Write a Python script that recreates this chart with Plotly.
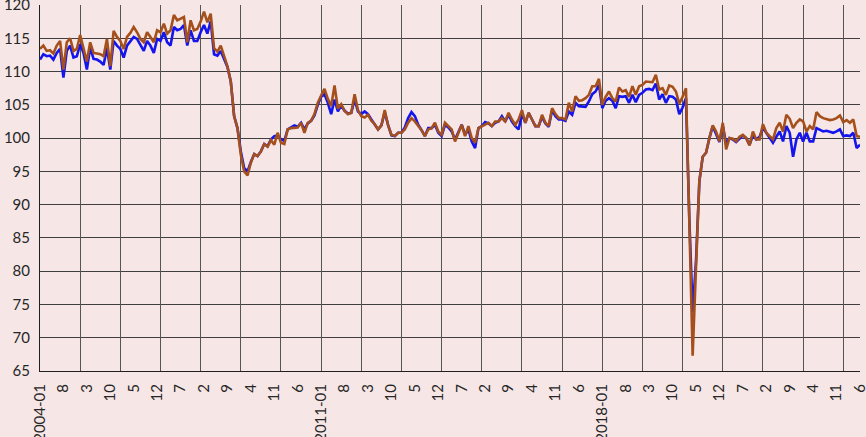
import pandas as pd
import plotly.graph_objects as go

# 月份 (2004-01 ~ 2024-06)
months = pd.date_range("2004-01-01", "2024-06-01", freq="MS")
month_labels = [d.strftime("%Y-%m") if d.month == 1 else str(d.month) for d in months]

# 藍線
blue_idx = [
    111.8, 112.6, 112.3, 112.4, 111.8, 112.8, 113.4, 109.1, 113.1, 113.9, 112.1, 112.3,  # 2004
    114.1, 112.8, 110.3, 113.6, 111.9, 111.8, 111.5, 111.0, 113.5, 110.3, 114.6, 113.9,  # 2005
    113.4, 112.1, 113.9, 114.6, 115.2, 114.9, 113.9, 113.1, 114.6, 113.9, 112.8, 114.9,  # 2006
    114.6, 115.9, 114.4, 113.9, 116.7, 116.2, 116.4, 117.0, 113.9, 116.2, 114.6, 114.6,  # 2007
    115.9, 117.0, 115.7, 117.6, 112.6, 112.4, 113.1, 112.0, 110.7, 108.5, 103.3, 101.5,  # 2008
    98.0, 95.5, 95.0, 96.4, 97.6, 97.3, 98.0, 99.1, 98.8, 99.8, 100.3, 100.4,  # 2009
    99.8, 99.6, 101.3, 101.6, 101.9, 101.7, 102.3, 101.3, 102.2, 102.6, 103.4, 105.0,  # 2010
    106.2, 106.6, 105.3, 103.6, 105.8, 104.0, 104.9, 104.1, 103.7, 103.8, 105.8, 104.0,  # 2011
    103.6, 104.0, 103.6, 102.8, 102.1, 101.3, 101.9, 103.9, 102.0, 100.4, 100.3, 100.8,  # 2012
    100.8, 101.6, 103.0, 103.9, 103.3, 102.0, 101.2, 100.3, 101.5, 101.5, 102.0, 100.8,  # 2013
    100.3, 102.0, 101.6, 101.0, 99.8, 100.8, 102.0, 100.5, 101.3, 99.5, 98.5, 101.5,  # 2014
    101.8, 102.4, 102.2, 101.8, 102.3, 102.5, 103.3, 102.5, 103.5, 102.5, 101.8, 101.3,  # 2015
    103.6, 102.3, 103.8, 102.8, 101.8, 101.8, 103.2, 102.2, 101.7, 104.2, 103.3, 102.8,  # 2016
    102.8, 102.6, 104.0, 103.5, 105.3, 104.8, 104.7, 104.7, 105.5, 106.6, 107.0, 108.0,  # 2017
    104.5, 105.6, 106.0, 105.6, 104.5, 106.3, 106.2, 106.3, 105.3, 106.5, 105.4, 106.5,  # 2018
    106.8, 107.3, 107.4, 107.2, 108.2, 105.8, 106.6, 105.3, 106.3, 106.2, 105.8, 103.6,  # 2019
    104.6, 106.0, 88.0, 73.8, 81.5, 93.5, 97.2, 97.8, 100.0, 101.8, 100.6, 99.4,  # 2020
    101.8, 99.2, 100.0, 99.8, 99.4, 99.9, 100.4, 100.0, 99.0, 100.4, 99.8, 100.2,  # 2021
    101.5, 100.8, 100.0, 99.3, 100.2, 101.0, 99.5, 101.8, 100.8, 97.2, 99.8, 100.8,  # 2022
    99.5, 100.8, 99.5, 99.5, 101.5, 101.3, 101.0, 101.1, 101.0, 100.8, 101.0, 101.3,  # 2023
    100.3, 100.4, 100.3, 100.8, 98.5, 99.0,  # 2024
]

# 棕線
brown_idx = [
    113.4, 113.9, 113.1, 113.2, 112.7, 113.9, 114.6, 110.3, 114.4, 115.0, 113.1, 113.4,  # 2004
    115.5, 113.6, 111.5, 114.4, 112.8, 112.7, 112.6, 112.3, 114.9, 110.8, 116.1, 115.2,  # 2005
    114.6, 113.4, 115.2, 115.8, 116.7, 115.9, 114.9, 114.4, 115.9, 115.2, 114.4, 116.2,  # 2006
    115.9, 117.2, 115.7, 116.2, 118.5, 117.7, 118.0, 118.2, 114.4, 117.7, 116.2, 116.4,  # 2007
    117.5, 119.0, 117.4, 118.7, 113.5, 113.0, 113.9, 112.2, 110.8, 108.5, 103.3, 101.5,  # 2008
    97.5, 95.0, 94.4, 96.3, 97.6, 97.3, 98.0, 99.1, 98.7, 99.7, 99.0, 100.8,  # 2009
    99.3, 99.1, 101.3, 101.5, 101.5, 101.6, 102.3, 100.8, 102.3, 102.6, 103.6, 105.3,  # 2010
    106.4, 107.4, 105.9, 104.8, 107.9, 104.4, 105.1, 104.1, 103.6, 103.8, 106.6, 104.2,  # 2011
    103.3, 103.1, 103.5, 102.6, 102.1, 101.3, 101.9, 104.2, 101.9, 100.5, 100.3, 100.8,  # 2012
    100.8, 101.3, 102.3, 103.0, 102.5, 101.8, 101.2, 100.3, 101.3, 101.5, 102.3, 101.0,  # 2013
    100.5, 102.3, 101.8, 101.3, 99.5, 100.8, 102.0, 100.3, 101.8, 100.0, 99.3, 101.5,  # 2014
    101.8, 102.0, 102.3, 101.8, 102.5, 102.5, 103.0, 102.5, 103.8, 102.8, 102.0, 102.8,  # 2015
    104.2, 102.3, 103.8, 102.8, 101.8, 101.8, 103.5, 102.3, 101.8, 104.5, 103.6, 103.0,  # 2016
    103.0, 102.8, 105.3, 104.0, 106.3, 105.6, 105.7, 106.0, 106.5, 107.8, 107.8, 108.9,  # 2017
    105.0, 106.2, 107.0, 106.0, 105.5, 107.6, 107.0, 107.2, 106.2, 107.8, 106.5, 107.8,  # 2018
    108.0, 108.5, 108.5, 108.4, 109.5, 107.3, 107.5, 106.5, 107.9, 107.7, 107.0, 105.2,  # 2019
    106.2, 107.5, 87.5, 67.3, 80.5, 93.5, 97.2, 97.8, 100.0, 101.9, 101.0, 99.5,  # 2020
    102.3, 98.3, 100.0, 99.9, 99.5, 100.2, 100.5, 100.0, 98.9, 101.0, 99.8, 99.8,  # 2021
    102.1, 100.8, 100.3, 99.8, 101.5, 102.3, 101.0, 103.5, 102.9, 101.5, 102.3, 102.8,  # 2022
    102.5, 101.0, 101.8, 101.3, 103.9, 103.3, 103.0, 102.9, 102.7, 102.8, 103.0, 103.4,  # 2023
    102.4, 102.7, 102.3, 102.8, 100.3, 100.2,  # 2024
]

x = list(range(len(months)))
bg = "#F6E6E6"
grid = "#3F3F3F"
font = dict(family="Lato, Calibri, sans-serif", size=15, color="#262626")

fig = go.Figure()
fig.add_trace(go.Scatter(x=x, y=blue_idx, mode="lines",
                         line=dict(color="#1414EE", width=2.6), xaxis="x", hoverinfo="skip"))
# 棕線放在第二個 x 軸（年度格線用）
fig.add_trace(go.Scatter(x=x, y=brown_idx, mode="lines",
                         line=dict(color="#A5501C", width=2.6), xaxis="x2", hoverinfo="skip"))

tick_pos = x[::7]
tick_txt = month_labels[::7]

fig.update_layout(
    width=866, height=437,
    margin=dict(l=40, r=6, t=5, b=66),
    paper_bgcolor=bg, plot_bgcolor=bg,
    showlegend=False,
    font=font,
    xaxis=dict(
        range=[0, len(x) - 1], tickmode="array", tickvals=tick_pos, ticktext=tick_txt,
        tickangle=-90, showgrid=False, zeroline=False,
        showline=True, linecolor="#202020", linewidth=1,
        ticks="", ticklabelstandoff=6, automargin=False, tickfont=font,
        ticklabeloverflow="allow",
    ),
    xaxis2=dict(
        range=[0, len(x) - 1], overlaying="x", anchor="y", side="bottom",
        tick0=0, dtick=12, showticklabels=False, showgrid=True,
        gridcolor="#555555", gridwidth=1, zeroline=False, showline=False,
    ),
    yaxis=dict(
        range=[65, 120], dtick=5, showgrid=True, gridcolor=grid, gridwidth=1,
        zeroline=False, showline=True, linecolor="#202020", linewidth=1,
        ticks="", ticklabelstandoff=6, automargin=False, tickfont=font,
        ticklabeloverflow="allow",
    ),
)

# 頁面預設 body 邊距 8px，去掉
fig.write_html("out.html", config={"displayModeBar": False},
               post_script="document.body.style.margin='0';")
